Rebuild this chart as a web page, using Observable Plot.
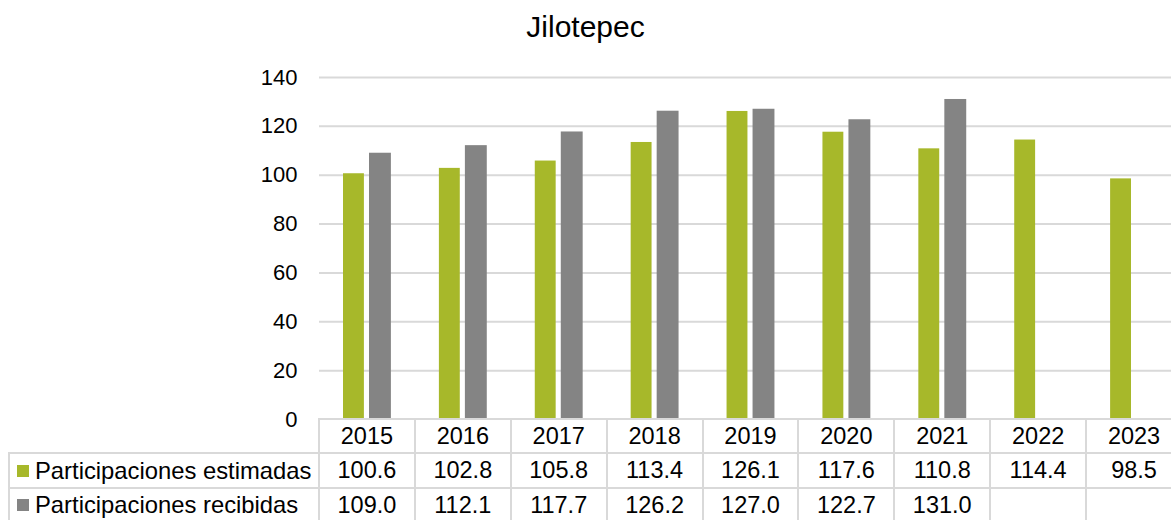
<!DOCTYPE html>
<html>
<head>
<meta charset="utf-8">
<script src="https://cdn.jsdelivr.net/npm/d3@7"></script>
<script src="https://cdn.jsdelivr.net/npm/@observablehq/plot@0.6"></script>
<style>
  html, body { margin: 0; padding: 0; background: #fff; }
  #wrap { position: relative; width: 1171px; height: 520px; overflow: hidden; font-family: "Liberation Sans", Arial, sans-serif; color: #000; }
  #title { position: absolute; left: 0; top: 12px; width: 1171px; text-align: center; font-size: 30px; line-height: 30px; }
  #chart { position: absolute; left: 0; top: 0; }
  .hl { position: absolute; height: 2px; background: #d9d9d9; }
  .vl { position: absolute; width: 2px; background: #d9d9d9; }
  .cell { position: absolute; display: flex; align-items: center; justify-content: center; font-size: 23.5px; white-space: nowrap; }
  .leg { position: absolute; display: flex; align-items: center; font-size: 23.8px; white-space: nowrap; }
  .sw { width: 12px; height: 12px; margin-right: 6px; flex: none; }
</style>
</head>
<body>
<div id="wrap">
  <div id="chart"></div>
  <div id="title">Jilotepec</div>
</div>
<script>
const years = ["2015", "2016", "2017", "2018", "2019", "2020", "2021", "2022", "2023"];
const estimadas = [100.6, 102.8, 105.8, 113.4, 126.1, 117.6, 110.8, 114.4, 98.5];
const recibidas = [109.0, 112.1, 117.7, 126.2, 127.0, 122.7, 131.0, null, null];
const seriesNames = ["Participaciones estimadas", "Participaciones recibidas"];
const seriesColors = ["#a7b82a", "#848484"];
const yTicks = [0, 20, 40, 60, 80, 100, 120, 140];

const estData = years.map((year, i) => ({year, value: estimadas[i]}));
const recData = years.map((year, i) => ({year, value: recibidas[i]})).filter(d => d.value != null);

const chart = Plot.plot({
  width: 1171,
  height: 420,
  marginTop: 77,
  marginBottom: 1,
  marginLeft: 319,
  marginRight: -11,
  style: {fontFamily: "'Liberation Sans', Arial, sans-serif", fontSize: "22px", color: "#000", background: "transparent", overflow: "visible"},
  x: {domain: years, padding: 0, round: false, axis: null},
  y: {domain: [0, 140], axis: null},
  marks: [
    Plot.ruleY(yTicks.filter(d => d > 0), {stroke: "#d9d9d9", strokeWidth: 2}),
    Plot.axisY({ticks: yTicks, tickSize: 0, tickPadding: 22, fontSize: 22, label: null, tickFormat: d => String(d)}),
    Plot.barY(estData, {x: "year", y: "value", fill: seriesColors[0], insetLeft: 24, insetRight: 51}),
    Plot.barY(recData, {x: "year", y: "value", fill: seriesColors[1], insetLeft: 50, insetRight: 24})
  ]
});
document.getElementById("chart").appendChild(chart);

// Data table aligned on the chart's own x scale
const wrap = document.getElementById("wrap");
const xs = chart.scale("x");
const bw = xs.bandwidth;
const rowTops = [419, 453, 488, 522];
const tableLeft = 9;
const firstCol = xs.apply(years[0]);
const lastRight = xs.apply(years[years.length - 1]) + bw;

function add(cls, css, text) {
  const d = document.createElement("div");
  d.className = cls;
  Object.assign(d.style, css);
  if (text != null) d.textContent = text;
  wrap.appendChild(d);
  return d;
}
// horizontal lines
add("hl", {left: firstCol - 1 + "px", top: rowTops[0] - 1 + "px", width: lastRight - firstCol + 2 + "px"});
for (let r = 1; r < rowTops.length; r++) {
  add("hl", {left: tableLeft - 1 + "px", top: rowTops[r] - 1 + "px", width: lastRight - tableLeft + 2 + "px"});
}
// vertical lines
add("vl", {left: tableLeft - 1 + "px", top: rowTops[1] - 1 + "px", height: rowTops[3] - rowTops[1] + 2 + "px"});
years.forEach(y => {
  const x = xs.apply(y);
  add("vl", {left: x - 1 + "px", top: rowTops[0] - 1 + "px", height: rowTops[3] - rowTops[0] + 2 + "px"});
});
add("vl", {left: lastRight - 1 + "px", top: rowTops[0] - 1 + "px", height: rowTops[3] - rowTops[0] + 2 + "px"});

// header
years.forEach(y => {
  add("cell", {left: xs.apply(y) + "px", top: rowTops[0] + "px", width: bw + "px", height: rowTops[1] - rowTops[0] + "px"}, y);
});
// rows
const rows = [estimadas, recibidas];
rows.forEach((vals, r) => {
  const top = rowTops[r + 1], h = rowTops[r + 2] - rowTops[r + 1];
  const leg = add("leg", {left: "17px", top: top + "px", height: h + "px"});
  const sw = document.createElement("span");
  sw.className = "sw";
  sw.style.background = seriesColors[r];
  leg.appendChild(sw);
  leg.appendChild(document.createTextNode(seriesNames[r]));
  years.forEach((y, i) => {
    if (vals[i] == null) return;
    add("cell", {left: xs.apply(y) + "px", top: top + "px", width: bw + "px", height: h + "px"}, vals[i].toFixed(1));
  });
});
</script>
</body>
</html>
